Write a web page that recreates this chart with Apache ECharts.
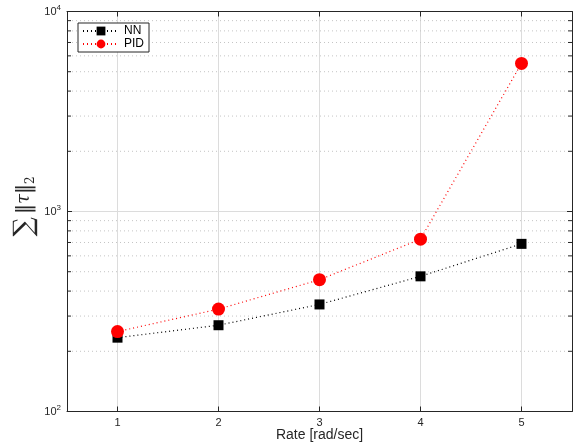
<!DOCTYPE html>
<html>
<head>
<meta charset="utf-8">
<script src="https://cdn.jsdelivr.net/npm/echarts@6/dist/echarts.min.js"></script>
<style>
  html, body { margin: 0; padding: 0; background: #fff; }
  #main { width: 573px; height: 444px; }
</style>
</head>
<body>
<div id="main"></div>
<script>
const rates = [1, 2, 3, 4, 5];
const nnVals = [234, 270, 343, 474, 689];
const pidVals = [251, 325, 456, 727, 5500];
const xTicks = [1, 2, 3, 4, 5];
const minorVals = [200, 300, 400, 500, 600, 700, 800, 900, 2000, 3000, 4000, 5000, 6000, 7000, 8000, 9000];

const chartDom = document.getElementById('main');
const myChart = echarts.init(chartDom);

const font = 'Liberation Sans, Arial, sans-serif';
const serif = 'DejaVu Serif, serif';

const xBase = {
  type: 'value',
  min: 0.5,
  max: 5.5,
  axisLine: { onZero: false, lineStyle: { color: '#262626', width: 1 } },
  axisTick: { inside: true, length: 5, customValues: xTicks, lineStyle: { color: '#262626' } },
  axisLabel: { show: false, customValues: xTicks },
  splitLine: { show: false }
};

const yBase = {
  type: 'log',
  logBase: 10,
  min: 100,
  max: 10000,
  axisLine: { onZero: false, lineStyle: { color: '#262626', width: 1 } },
  axisTick: { inside: true, length: 5, lineStyle: { color: '#262626' } },
  splitLine: { show: false },
  minorTick: { show: false }
};

let option = {
  animation: false,
  textStyle: { fontFamily: font },
  grid: { left: 67, right: 1, top: 11.5, bottom: 32.5, containLabel: false, outerBoundsMode: 'none' },
  legend: {
    left: 78,
    top: 23,
    orient: 'vertical',
    backgroundColor: '#fff',
    borderColor: '#262626',
    borderWidth: 1,
    borderRadius: 0,
    padding: [2, 5, 2, 4],
    itemGap: 1,
    itemWidth: 36,
    itemHeight: 11,
    textStyle: { fontSize: 12, lineHeight: 12, color: '#000', fontFamily: font },
    data: ['NN', 'PID']
  },
  xAxis: [
    Object.assign({}, xBase, {
      position: 'bottom',
      name: 'Rate [rad/sec]',
      nameLocation: 'middle',
      nameGap: 17,
      nameMoveOverlap: false,
      nameTextStyle: { fontSize: 14, color: '#262626' },
      axisLabel: { show: true, customValues: xTicks, fontSize: 11, color: '#262626', margin: 6 },
      splitLine: { show: true, lineStyle: { color: '#dcdcdc', width: 1 } }
    }),
    Object.assign({}, xBase, { position: 'top' })
  ],
  yAxis: [
    Object.assign({}, yBase, {
      position: 'left',
      name: '{sum|∑} {n|‖}{t|τ}{n|‖}{s|2}',
      nameLocation: 'middle',
      nameGap: 29,
      nameMoveOverlap: false,
      nameRotate: 90,
      nameTextStyle: {
        padding: [0, 0, 0, 10],
        rich: {
          sum: { fontSize: 27, fontFamily: serif, color: '#262626' },
          n: { fontSize: 20, fontFamily: serif, color: '#262626' },
          t: { fontSize: 18, fontFamily: serif, fontStyle: 'italic', color: '#262626' },
          s: { fontSize: 12, fontFamily: serif, color: '#262626', padding: [12, 0, 0, 0] }
        }
      },
      axisLabel: {
        margin: 6,
        formatter: function (v) {
          return '{b|10}{e|' + Math.round(Math.log10(v)) + '}';
        },
        rich: {
          b: { fontSize: 11, color: '#262626', fontFamily: font },
          e: { fontSize: 8, color: '#262626', fontFamily: font, padding: [0, 0, 8, 0] }
        }
      },
      splitLine: { show: true, lineStyle: { color: '#dcdcdc', width: 1 } }
    }),
    Object.assign({}, yBase, { position: 'right', axisLabel: { show: false } })
  ],
  series: [
    {
      name: 'minor',
      type: 'custom',
      silent: true,
      z: 1,
      xAxisIndex: 0,
      yAxisIndex: 0,
      data: minorVals.map(v => [0.5, v]),
      renderItem: function (params, api) {
        const v = api.value(1);
        const a = api.coord([0.5, v]);
        const b = api.coord([5.5, v]);
        return {
          type: 'group',
          children: [
            {
              type: 'line',
              shape: { x1: a[0] + 5, y1: a[1], x2: b[0] - 5, y2: b[1] },
              style: { stroke: '#c4c4c4', lineWidth: 1, lineDash: [1, 3] }
            },
            {
              type: 'line',
              shape: { x1: a[0], y1: a[1], x2: a[0] + 4, y2: a[1] },
              style: { stroke: '#262626', lineWidth: 1 }
            },
            {
              type: 'line',
              shape: { x1: b[0] - 4, y1: b[1], x2: b[0], y2: b[1] },
              style: { stroke: '#262626', lineWidth: 1 }
            }
          ]
        };
      }
    },
    {
      name: 'NN',
      type: 'line',
      z: 3,
      data: rates.map((r, i) => [r, nnVals[i]]),
      symbol: 'rect',
      symbolSize: 10,
      itemStyle: { color: '#000' },
      lineStyle: { color: '#000', width: 1.2, type: [1, 3] }
    },
    {
      name: 'PID',
      type: 'line',
      z: 4,
      data: rates.map((r, i) => [r, pidVals[i]]),
      symbol: 'circle',
      symbolSize: 13,
      itemStyle: { color: '#ff0000' },
      lineStyle: { color: '#ff0000', width: 1.2, type: [1, 3] }
    }
  ]
};

myChart.setOption(option);
</script>
</body>
</html>
